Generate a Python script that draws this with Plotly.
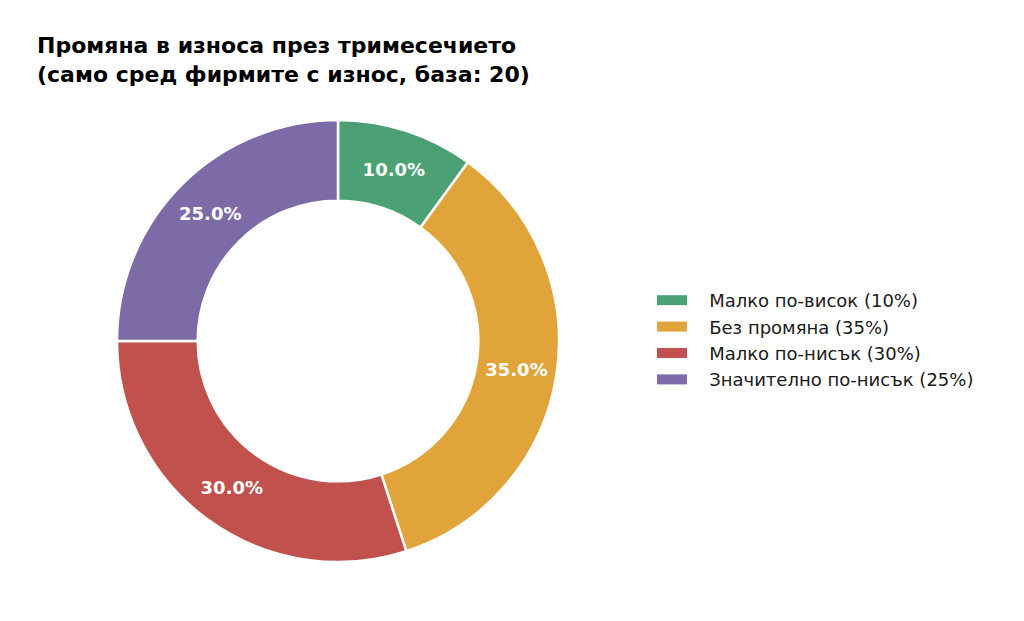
import plotly.graph_objects as go

labels = ["Малко по-висок (10%)", "Без промяна (35%)", "Малко по-нисък (30%)", "Значително по-нисък (25%)"]
values = [10, 35, 30, 25]
colors = ["#4BA173", "#E0A43A", "#C0514D", "#7D6BA7"]
title_text = "Промяна в износа през тримесечието<br>(само сред фирмите с износ, база: 20)"

W, H = 1024, 621
cx, cy, r = 330, 333, 221

fig = go.Figure(go.Pie(
    labels=labels,
    values=values,
    sort=False,
    direction="clockwise",
    rotation=0,
    hole=0.635,
    marker=dict(colors=colors, line=dict(color="white", width=2.5)),
    texttemplate="%{percent:.1%}",
    textposition="inside",
    insidetextorientation="horizontal",
    textfont=dict(family="DejaVu Sans", size=18, color="white", weight="bold"),
    hoverinfo="label+percent",
    showlegend=False,
    domain=dict(x=[(cx - r) / W, (cx + r) / W], y=[(H - cy - r) / H, (H - cy + r) / H]),
))

# legend entries with wide rectangular swatches
gap = "\u00a0\u00a0\u00a0"
for lab, col in zip(labels, colors):
    fig.add_trace(go.Scatter(
        x=[None], y=[None], mode="lines", name=gap + lab,
        line=dict(color=col, width=12),
        hoverinfo="skip",
    ))

fig.update_layout(
    width=W, height=H,
    margin=dict(l=0, r=0, t=0, b=0),
    paper_bgcolor="white",
    plot_bgcolor="white",
    font=dict(family="DejaVu Sans", color="black"),
    xaxis=dict(visible=False),
    yaxis=dict(visible=False),
    title=dict(
        text=title_text,
        x=29 / W, xanchor="left",
        y=1 - 45 / H, yanchor="top",
        font=dict(family="DejaVu Sans", size=22, color="black", weight="bold"),
    ),
    legend=dict(
        x=644 / W, xanchor="left",
        y=1 - 332 / H, yanchor="middle",
        font=dict(family="DejaVu Sans", size=18, color="#1a1a1a"),
        tracegroupgap=0,
        itemwidth=30,
    ),
)

fig.write_html("out.html")
